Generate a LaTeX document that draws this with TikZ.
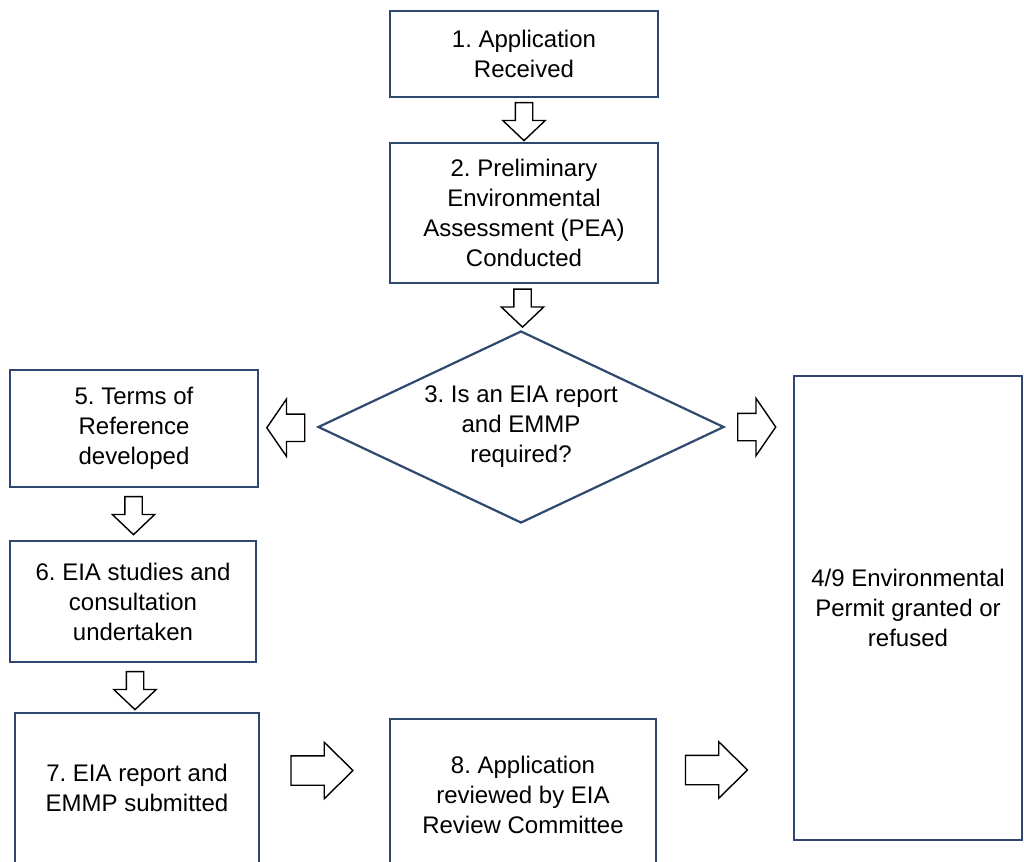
\documentclass[tikz,border=0pt]{standalone}
\usepackage{fontspec}
\setmainfont{Liberation Sans}
\usetikzlibrary{shapes.geometric,shapes.arrows,calc}
\definecolor{boxline}{RGB}{47,72,110}
\frenchspacing

\begin{document}
\begin{tikzpicture}[x=1pt,y=-1pt,
	font=\fontsize{24}{30}\selectfont,
	stage/.style={draw=boxline,line width=2.2pt,align=center,inner sep=0pt},
	decision/.style={diamond,draw=boxline,line width=2.2pt,align=center,inner sep=0pt,aspect=2.1,minimum width=406pt,minimum height=192pt},
	hollow/.style={single arrow,draw,line width=1.4pt,fill=white,inner xsep=0pt},
	vstep/.style={hollow,rotate=-90,inner ysep=8pt,minimum height=38pt,minimum width=41pt,single arrow head extend=12.5pt,single arrow tip angle=93},
	hside/.style={hollow,inner ysep=13pt,minimum height=38pt,minimum width=56pt,single arrow head extend=15pt,single arrow tip angle=111},
	hlong/.style={hollow,inner ysep=14pt,minimum height=62pt,minimum width=55pt,single arrow head extend=13.5pt,single arrow tip angle=89}]
	\useasboundingbox (0,0) rectangle (1024,861);

	\node[stage,minimum width=268pt,minimum height=86pt] (app) at (524,54) {1. Application\\Received};
	\node[stage,minimum width=268pt,minimum height=140pt] (pea) at (524,213) {2. Preliminary\\Environmental\\Assessment (PEA)\\Conducted};
	\node[decision] (req) at (521,427) {3. Is an EIA report\\and EMMP\\required?};
	\node[stage,minimum width=248pt,minimum height=117pt] (tor) at (134,428.5) {5. Terms of\\Reference\\developed};
	\node[stage,minimum width=246pt,minimum height=121pt] (study) at (133,601.5) {6. EIA studies and\\consultation\\undertaken};
	\node[stage,minimum width=244pt,minimum height=150pt] (report) at (137,788) {7. EIA report and\\EMMP submitted};
	\node[stage,minimum width=266pt,minimum height=152pt] (review) at (523,795) {8. Application\\reviewed by EIA\\Review Committee};
	\node[stage,minimum width=228pt,minimum height=464pt] (permit) at (908,608) {4/9 Environmental\\Permit granted or\\refused};

	\node[vstep] (a1) at ($(app.south)!.5!(pea.north)+(0,-2.5)$) {};
	\node[vstep] (a2) at ($(pea.south)!.5!(req.north)+(0,-3)$) {};
	\node[hside,rotate=180] (a3) at ($(req.west)!.5!(tor.east)+(2.5,0)$) {};
	\node[hside] (a4) at ($(req.east)!.5!(req.east -| permit.west)+(-7,0)$) {};
	\node[vstep] (a5) at ($(tor.south)!.5!(study.north)+(0,-2.5)$) {};
	\node[vstep] (a6) at ($(study.south)!.5!(report.north)+(0,-1)$) {};
	\node[hlong] (a7) at ($(report.east)!.5!(review.west)+(-10,-21)$) {};
	\node[hlong] (a8) at ($(review.east)!.5!(review.east -| permit.west)+(-16,-25)$) {};
\end{tikzpicture}
\end{document}
